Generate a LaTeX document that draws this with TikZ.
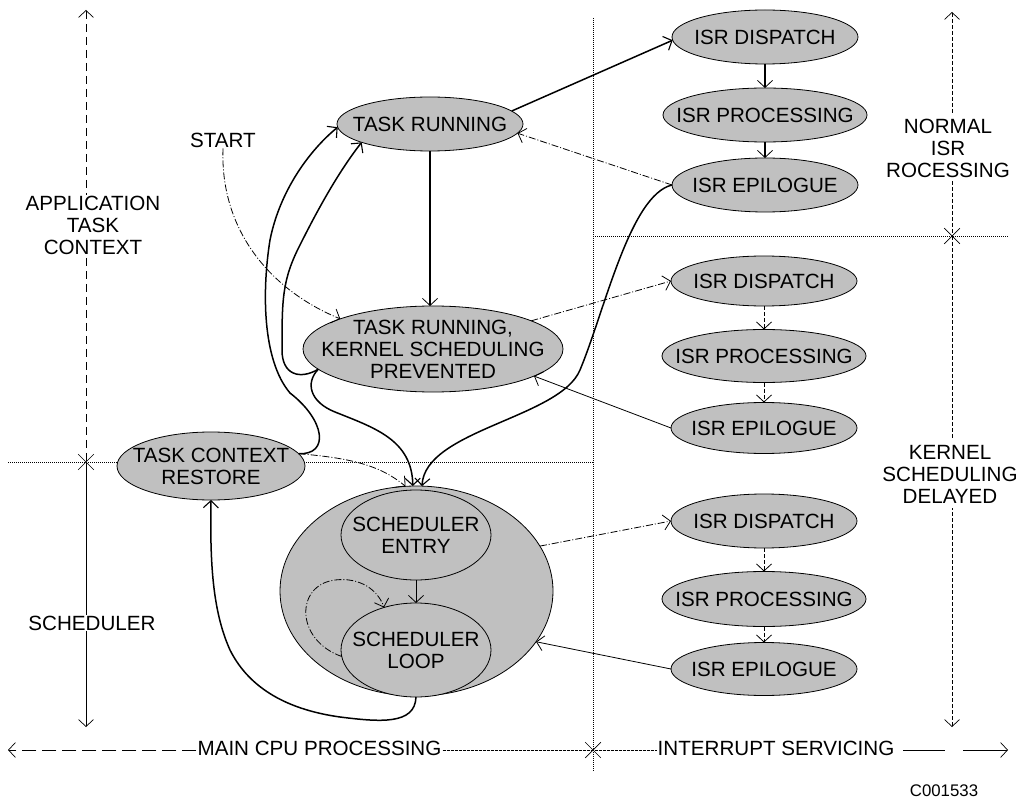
\documentclass[tikz,border=0pt]{standalone}
\usepackage{fontspec}
\setmainfont{Liberation Sans}
\usetikzlibrary{shapes.geometric,shapes.misc,arrows.meta}
\definecolor{ellgray}{RGB}{192,192,192}
\newcommand\dfont{\fontsize{20.6}{22}\selectfont}
\begin{document}
\begin{tikzpicture}[x=1pt,y=1pt,
  st/.style={ellipse, draw=black, line width=0.8pt, fill=ellgray, inner sep=0pt, outer sep=0pt},
  lbl/.style={align=center, font=\dfont, inner sep=1pt},
  wlbl/.style={lbl, fill=white},
  txt/.style={label={[lbl]center:{#1}}},
  tip/.style={-{Straight Barb[length=7pt,width=15pt,line width=0.8pt]}},
  thickline/.style={line width=1.5pt, -{Straight Barb[length=7pt,width=15pt,line width=1.1pt]}},
  thinline/.style={line width=0.8pt, tip},
  dashdot/.style={line width=0.8pt, dash pattern=on 7pt off 2pt on 1pt off 2pt, tip},
  fdash/.style={line width=0.8pt, dash pattern=on 4pt off 2pt, tip},
  guide/.style={line width=0.7pt},
  dotline/.style={line width=0.7pt, dash pattern=on 1pt off 1pt},
  xmark/.style={cross out, draw=black, line width=0.7pt, minimum size=15pt, inner sep=0pt}
]
\useasboundingbox (0,0) rectangle (1022,-799);

% ---------- guide lines ----------
\draw[dotline] (593,-18) -- (593,-772);
\draw[dotline] (8,-462) -- (593,-462);
\draw[dotline] (593,-236) -- (1008,-236);
\draw[guide, dash pattern=on 8pt off 5pt, {Straight Barb[length=7pt,width=15pt,line width=0.7pt]}-] (86,-10) -- (86,-462);
\draw[guide, -{Straight Barb[length=7pt,width=15pt,line width=0.7pt]}] (86,-462) -- (86,-727);
\draw[guide, dash pattern=on 4pt off 2pt, {Straight Barb[length=7pt,width=15pt,line width=0.7pt]}-] (952,-12) -- (952,-236);
\draw[guide, dash pattern=on 4pt off 2pt, -{Straight Barb[length=7pt,width=15pt,line width=0.7pt]}] (952,-236) -- (952,-727);
\node[xmark] (x1) at (86,-462) {};
\node[xmark] (x2) at (952,-236) {};
\node[xmark] (x3) at (593,-750) {};

% bottom axis
\node[lbl] (lmain) at (319.5,-748) {MAIN CPU PROCESSING};
\node[lbl] (lint) at (776,-748) {INTERRUPT SERVICING};
\coordinate (bl) at (8,-750);
\coordinate (br) at (1008,-750);
\coordinate (bg1) at (945,-750);
\coordinate (bg2) at (963,-750);
\draw[guide, dash pattern=on 14pt off 6pt, -{Straight Barb[length=7pt,width=15pt,line width=0.7pt]}] (lmain.west |- bl) -- (bl);
\draw[guide, dash pattern=on 3pt off 1pt] (lmain.east |- bl) -- (lint.west |- bl);
\draw[guide] ([xshift=8pt]lint.east |- bl) -- (bg1);
\draw[guide, -{Straight Barb[length=7pt,width=15pt,line width=0.7pt]}] (bg2) -- (br);

% side labels
\node[wlbl] (lapp) at (93,-225) {APPLICATION\\TASK\\CONTEXT};
\node[wlbl] (lsch) at (92,-623) {SCHEDULER};
\node[wlbl, inner sep=4pt] (lnorm) at (948,-148) {NORMAL\\ISR\\ROCESSING};
\node[wlbl, inner sep=5pt] (lker) at (950,-474) {KERNEL\\SCHEDULING\\DELAYED};
\node[lbl] (start) at (223,-140) {START};
\node[lbl, font=\fontsize{16.8}{18}\selectfont] (code) at (944,-791) {C001533};

% ---------- states ----------
\node[st, minimum width=186pt, minimum height=54pt, txt={TASK RUNNING}] (tr) at (430,-124) {};
\node[st, minimum width=260pt, minimum height=86pt, txt={TASK RUNNING,\\KERNEL SCHEDULING\\PREVENTED}] (ksp) at (433,-349) {};
\node[st, minimum width=188pt, minimum height=68pt, txt={TASK CONTEXT\\RESTORE}] (tcr) at (211,-466) {};
\node[st, minimum width=273pt, minimum height=210pt] (sched) at (416.5,-591) {};
\node[st, minimum width=150pt, minimum height=90pt, txt={SCHEDULER\\ENTRY}] (entry) at (416,-535) {};
\node[st, minimum width=150pt, minimum height=94pt, txt={SCHEDULER\\LOOP}] (loop) at (416,-650) {};

\node[st, minimum width=186pt, minimum height=54pt, txt={ISR DISPATCH}] (d1) at (765,-37) {};
\node[st, minimum width=204pt, minimum height=54pt, txt={ISR PROCESSING}] (p1) at (765,-115) {};
\node[st, minimum width=186pt, minimum height=54pt, txt={ISR EPILOGUE}] (e1) at (765,-185) {};

\node[st, minimum width=186pt, minimum height=50pt, txt={ISR DISPATCH}] (d2) at (764,-281) {};
\node[st, minimum width=204pt, minimum height=53pt, txt={ISR PROCESSING}] (p2) at (764,-356) {};
\node[st, minimum width=186pt, minimum height=51pt, txt={ISR EPILOGUE}] (e2) at (764,-428) {};

\node[st, minimum width=186pt, minimum height=54pt, txt={ISR DISPATCH}] (d3) at (764,-521) {};
\node[st, minimum width=204pt, minimum height=55pt, txt={ISR PROCESSING}] (p3) at (764,-599) {};
\node[st, minimum width=186pt, minimum height=53pt, txt={ISR EPILOGUE}] (e3) at (764,-669) {};

% ---------- connectors ----------
% top ISR chain
\draw[thickline] (tr.9) -- (d1.182);
\draw[thinline, line width=1.1pt] (d1.south) -- (p1.north);
\draw[thinline, line width=1.1pt] (p1.south) -- (e1.north);
\draw[dashdot] (e1.west) -- (tr.-6);
\draw[thickline] (e1.west) .. controls (630,-195) and (605,-310) .. (580,-370)
  .. controls (560,-418) and (425,-430) .. (sched.87);

% task running -> kernel scheduling prevented
\draw[thinline, line width=1.1pt] (tr.south) -- (tr.south |- ksp.north);
\draw[dashdot] (start.south) .. controls (220,-230) and (270,-290) .. (ksp.162);

% middle ISR chain
\draw[dashdot] (ksp.16) -- (d2.west);
\draw[fdash] (d2.south) -- (p2.north);
\draw[fdash] (p2.south) -- (e2.north);
\draw[thinline] (e2.west) -- (ksp.-15);

% ksp -> task running / scheduler
\draw[thickline] (ksp.190) .. controls (300,-380) and (282,-375) .. (282,-350)
  .. controls (282,-300) and (282,-280) .. (300,-245)
  .. controls (320,-205) and (340,-170) .. (tr.195);
\draw[thickline] (ksp.190) .. controls (305,-383) and (310,-402) .. (335,-412)
  .. controls (375,-428) and (412,-440) .. (sched.92);

% task context restore
\draw[thickline] (tcr.8) .. controls (330,-455) and (325,-420) .. (290,-393)
  .. controls (262,-360) and (262,-290) .. (270,-240)
  .. controls (280,-190) and (310,-150) .. (tr.182);
\draw[dashdot] (tcr.8) .. controls (350,-458) and (380,-465) .. (sched.96);

% scheduler internals
\draw[thinline] (entry.south) -- (loop.north);
\draw[dashdot] (loop.185) .. controls (295,-640) and (295,-585) .. (335,-580)
  .. controls (360,-577) and (378,-590) .. (loop.127);
\draw[thickline] (loop.south) .. controls (415,-725) and (380,-722) .. (340,-717)
  .. controls (290,-710) and (250,-690) .. (230,-650)
  .. controls (212,-610) and (210,-560) .. (tcr.south);

% bottom ISR chain
\draw[dashdot] (sched.20) -- (d3.west);
\draw[fdash] (d3.south) -- (p3.north);
\draw[fdash] (p3.south) -- (e3.north);
\draw[thinline] (e3.west) -- (sched.-23);
\end{tikzpicture}
\end{document}
